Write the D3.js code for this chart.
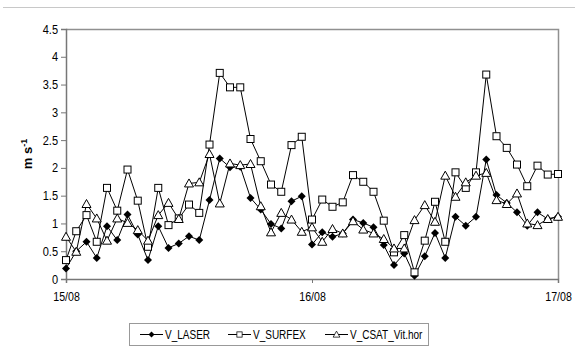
<!DOCTYPE html>
<html>
<head>
<meta charset="utf-8">
<script src="https://cdn.jsdelivr.net/npm/d3@7"></script>
<style>
  body { margin: 0; background: #fff; }
  svg { font-family: "Liberation Sans", Arial, sans-serif; }
</style>
</head>
<body>
<svg id="chart" width="575" height="347"></svg>
<script>
// hourly values, 15/08 00h -> 17/08 00h
const hours = d3.range(49);
const vLaser = [0.19, 0.50, 0.67, 0.38, 0.95, 0.70, 1.16, 0.80, 0.34, 0.95, 0.56, 0.64, 0.77, 0.70, 1.42, 2.17,
    2.01, 2.02, 1.46, 1.25, 0.99, 0.91, 1.40, 1.49, 0.62, 0.84, 0.76, 0.82, 1.07, 1.01, 0.93, 0.61,
    0.25, 0.46, 0.06, 0.41, 0.83, 0.38, 1.12, 0.96, 1.12, 2.15, 1.51, 1.37, 1.20, 0.96, 1.20, 1.08, 1.12];
const vSurfex = [0.34, 0.86, 1.15, 0.67, 1.64, 1.23, 1.97, 1.41, 0.58, 1.64, 0.97, 1.09, 1.34, 1.19, 2.42, 3.71,
    3.45, 3.45, 2.52, 2.12, 1.70, 1.57, 2.41, 2.56, 1.07, 1.43, 1.30, 1.38, 1.87, 1.75, 1.57, 1.05,
    0.48, 0.79, 0.12, 0.69, 1.39, 0.67, 1.92, 1.64, 1.92, 3.68, 2.57, 2.36, 2.06, 1.67, 2.04, 1.88, 1.89];
const vCsat = [0.76, 0.49, 1.35, 1.09, 0.69, 1.09, 1.01, 0.88, 0.69, 1.15, 1.37, 1.08, 1.72, 1.74, 2.25, 1.36,
    2.08, 2.05, 2.07, 1.31, 0.84, 1.19, 1.07, 0.85, 0.93, 0.67, 0.90, 0.82, 1.04, 0.89, 0.82, 0.72,
    0.55, 0.55, 1.06, 1.33, 1.03, 1.86, 1.48, 1.74, 1.86, 1.91, 1.42, 1.35, 1.54, 1.00, 0.97, 1.08, 1.12];
const seriesNames = ['V_LASER', 'V_SURFEX', 'V_CSAT_Vit.hor'];
const xTickHours = [0, 24, 48];
const xTickLabels = ['15/08', '16/08', '17/08'];
const yTicks = [0, 0.5, 1, 1.5, 2, 2.5, 3, 3.5, 4, 4.5];

const margin = { top: 29, left: 66, right: 17, bottom: 68 };
const width = 575, height = 347;

const svg = d3.select('#chart');

const x = d3.scaleLinear().domain([0, 48]).range([margin.left, width - margin.right]);
const y = d3.scaleLinear().domain([0, 4.5]).range([height - margin.bottom, margin.top]);

// the original text looks horizontally squeezed
function condense(sel, k) {
    sel.each(function() {
        const w = this.getComputedTextLength();
        d3.select(this)
            .attr('textLength', w * k)
            .attr('lengthAdjust', 'spacingAndGlyphs');
    });
}

// outer frame line at top
svg.append('line')
    .attr('x1', 3).attr('x2', width)
    .attr('y1', 7.5).attr('y2', 7.5)
    .attr('stroke', '#c8c8c8');

// plot area border (top + right)
svg.append('path')
    .attr('d', `M${x(0)},${y(4.5) + 0.5}H${x(48) + 0.5}V${y(0)}`)
    .attr('fill', 'none')
    .attr('stroke', '#909090')
    .attr('stroke-width', 1.5);

// y axis
const yAxis = svg.append('g')
    .attr('transform', `translate(${x(0)},0)`)
    .call(d3.axisLeft(y).tickValues(yTicks).tickSize(5).tickFormat(d3.format('')));
yAxis.select('.domain').attr('stroke', '#777').attr('stroke-width', 1.5);
yAxis.selectAll('.tick line').attr('stroke', '#777');
yAxis.selectAll('.tick text')
    .attr('font-size', 12.5)
    .attr('fill', '#000')
    .attr('x', -8)
    .call(condense, 0.88);

// x axis
const xAxis = svg.append('g')
    .attr('transform', `translate(0,${y(0)})`)
    .call(d3.axisBottom(x).tickValues(xTickHours).tickSize(4).tickFormat((d, i) => xTickLabels[i]));
xAxis.select('.domain').attr('stroke', '#777').attr('stroke-width', 1.5);
xAxis.selectAll('.tick line').attr('stroke', '#777');
xAxis.selectAll('.tick text')
    .attr('font-size', 12.5)
    .attr('fill', '#000')
    .attr('y', 13)
    .call(condense, 0.85);

// y title
const yTitle = svg.append('text')
    .attr('transform', `translate(32,${(y(0) + y(4.5)) / 2}) rotate(-90)`)
    .attr('text-anchor', 'middle')
    .attr('font-size', 13)
    .attr('font-weight', 'bold')
    .text('m s');
yTitle.append('tspan')
    .attr('dy', -5)
    .attr('font-size', 9)
    .text('-1');

// series
const series = [
    { name: seriesNames[0], values: vLaser, shape: 'diamond' },
    { name: seriesNames[1], values: vSurfex, shape: 'square' },
    { name: seriesNames[2], values: vCsat, shape: 'triangle' }
];

function marker(sel, shape) {
    if (shape === 'diamond') {
        sel.append('path')
            .attr('d', 'M0,-4L4,0L0,4L-4,0Z')
            .attr('fill', '#000');
    } else if (shape === 'square') {
        sel.append('rect')
            .attr('x', -3.5).attr('y', -3.5)
            .attr('width', 7).attr('height', 7)
            .attr('fill', '#fff').attr('stroke', '#000').attr('stroke-width', 1);
    } else {
        sel.append('path')
            .attr('d', 'M0,-4.5L4.5,3.5L-4.5,3.5Z')
            .attr('fill', '#fff').attr('stroke', '#000').attr('stroke-width', 1);
    }
}

const line = d3.line().x((d, i) => x(hours[i])).y(d => y(d));

series.forEach(s => {
    svg.append('path')
        .datum(s.values)
        .attr('d', line)
        .attr('fill', 'none')
        .attr('stroke', '#000')
        .attr('stroke-width', 1);
});

series.forEach(s => {
    svg.append('g')
        .selectAll('g')
        .data(s.values)
        .join('g')
        .attr('transform', (d, i) => `translate(${x(hours[i])},${y(d)})`)
        .each(function() { marker(d3.select(this), s.shape); });
});

// legend
const legend = svg.append('g');
legend.append('rect')
    .attr('x', 129.5).attr('y', 323.5)
    .attr('width', 299).attr('height', 22)
    .attr('fill', '#fff')
    .attr('stroke', '#999');

const legendX = [140, 228, 325];
series.forEach((s, i) => {
    const g = legend.append('g').attr('transform', `translate(${legendX[i]},334.5)`);
    g.append('line')
        .attr('x1', 0).attr('x2', 23)
        .attr('stroke', '#000');
    const m = g.append('g').attr('transform', 'translate(11.5,0) scale(0.75)');
    marker(m, s.shape);
    g.append('text')
        .attr('x', 25)
        .attr('y', 4.5)
        .attr('font-size', 12.5)
        .text(s.name)
        .call(condense, 0.8);
});
</script>
</body>
</html>
